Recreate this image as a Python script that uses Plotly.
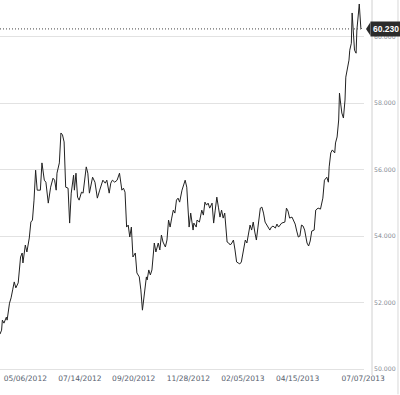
import plotly.graph_objects as go

dates = [
    "2012-04-04", "2012-04-06", "2012-04-07", "2012-04-09", "2012-04-12", "2012-04-13",
    "2012-04-16", "2012-04-18", "2012-04-20", "2012-04-22", "2012-04-24", "2012-04-27",
    "2012-04-30", "2012-05-02", "2012-05-03", "2012-05-06", "2012-05-08", "2012-05-11",
    "2012-05-13", "2012-05-15", "2012-05-17", "2012-05-19", "2012-05-21", "2012-05-25",
    "2012-05-27", "2012-05-30", "2012-06-01", "2012-06-04", "2012-06-07", "2012-06-10",
    "2012-06-12", "2012-06-14", "2012-06-15", "2012-06-18", "2012-06-20", "2012-06-22",
    "2012-06-24", "2012-06-26", "2012-06-29", "2012-07-01", "2012-07-03", "2012-07-06",
    "2012-07-07", "2012-07-09", "2012-07-11", "2012-07-13", "2012-07-16", "2012-07-18",
    "2012-07-22", "2012-07-24", "2012-07-26", "2012-07-30", "2012-08-02", "2012-08-05",
    "2012-08-08", "2012-08-12", "2012-08-15", "2012-08-17", "2012-08-20", "2012-08-22",
    "2012-08-24", "2012-08-27", "2012-08-30", "2012-09-02", "2012-09-05", "2012-09-07",
    "2012-09-09", "2012-09-11", "2012-09-13", "2012-09-15", "2012-09-17", "2012-09-19",
    "2012-09-22", "2012-09-24", "2012-09-27", "2012-09-29", "2012-10-01", "2012-10-03",
    "2012-10-06", "2012-10-07", "2012-10-09", "2012-10-11", "2012-10-13", "2012-10-16",
    "2012-10-18", "2012-10-21", "2012-10-23", "2012-10-25", "2012-10-27", "2012-10-30",
    "2012-11-01", "2012-11-03", "2012-11-05", "2012-11-07", "2012-11-09", "2012-11-11",
    "2012-11-13", "2012-11-15", "2012-11-17", "2012-11-20", "2012-11-23", "2012-11-24",
    "2012-11-26", "2012-11-28", "2012-11-29", "2012-12-01", "2012-12-04", "2012-12-05",
    "2012-12-08", "2012-12-09", "2012-12-12", "2012-12-15", "2012-12-17", "2012-12-19",
    "2012-12-21", "2012-12-23", "2012-12-25", "2012-12-28", "2012-12-30", "2013-01-01",
    "2013-01-03", "2013-01-05", "2013-01-07", "2013-01-09", "2013-01-11", "2013-01-13",
    "2013-01-16", "2013-01-18", "2013-01-20", "2013-01-22", "2013-01-24", "2013-01-26",
    "2013-01-28", "2013-01-30", "2013-02-01", "2013-02-03", "2013-02-06", "2013-02-08",
    "2013-02-10", "2013-02-12", "2013-02-14", "2013-02-16", "2013-02-18", "2013-02-20",
    "2013-02-22", "2013-02-24", "2013-02-27", "2013-03-01", "2013-03-03", "2013-03-05",
    "2013-03-07", "2013-03-09", "2013-03-11", "2013-03-13", "2013-03-15", "2013-03-18",
    "2013-03-20", "2013-03-22", "2013-03-24", "2013-03-26", "2013-03-30", "2013-04-01",
    "2013-04-03", "2013-04-05", "2013-04-08", "2013-04-10", "2013-04-12", "2013-04-14",
    "2013-04-16", "2013-04-18", "2013-04-20", "2013-04-22", "2013-04-24", "2013-04-27",
    "2013-04-29", "2013-05-01", "2013-05-03", "2013-05-06", "2013-05-08", "2013-05-11",
    "2013-05-14", "2013-05-17", "2013-05-19", "2013-05-22", "2013-05-24", "2013-05-25",
    "2013-05-27", "2013-05-29", "2013-06-01", "2013-06-02", "2013-06-04", "2013-06-06",
    "2013-06-07", "2013-06-08", "2013-06-10", "2013-06-12", "2013-06-14", "2013-06-15",
    "2013-06-17", "2013-06-19", "2013-06-20", "2013-06-22", "2013-06-23", "2013-06-25",
    "2013-06-26", "2013-06-28", "2013-06-29", "2013-07-01", "2013-07-02", "2013-07-04",
    "2013-07-05",
]

values = [
    51.05, 51.17, 51.47, 51.38, 51.56, 51.47,
    51.98, 52.14, 52.38, 52.62, 52.44, 52.59,
    53.37, 53.49, 53.19, 53.73, 53.52, 53.94,
    54.42, 54.48, 55.08, 55.98, 55.38, 55.38,
    56.20, 55.68, 55.62, 54.99, 55.47, 55.74,
    55.68, 55.38, 55.89, 56.20, 57.10, 57.04,
    56.83, 55.47, 55.44, 54.39, 55.29, 55.83,
    55.38, 55.89, 55.17, 55.08, 55.32, 55.29,
    56.08, 55.89, 55.29, 55.77, 55.62, 55.14,
    55.38, 55.68, 55.59, 55.68, 55.29, 55.59,
    55.68, 55.62, 55.68, 55.89, 55.38, 55.44,
    55.32, 54.27, 54.33, 53.97, 54.27, 53.37,
    53.49, 52.89, 52.77, 52.38, 51.77, 52.17,
    52.77, 52.68, 52.98, 52.83, 52.98, 53.79,
    53.52, 53.79, 53.58, 54.03, 53.82, 53.67,
    53.88, 54.48, 54.27, 54.54, 54.78, 54.69,
    55.08, 55.14, 55.02, 55.38, 55.59, 55.68,
    55.47, 54.78, 54.27, 54.69, 54.18, 54.39,
    54.27, 54.48, 54.42, 54.78, 54.63, 55.02,
    54.93, 54.99, 54.84, 54.99, 54.39, 54.78,
    55.17, 54.87, 54.57, 54.78, 54.54, 54.69,
    53.82, 53.79, 53.73, 53.79, 53.88, 53.58,
    53.22, 53.19, 53.16, 53.22, 53.58, 53.88,
    53.79, 54.12, 54.33, 54.18, 54.42, 54.12,
    53.88, 54.27, 54.84, 54.87, 54.69, 54.42,
    54.33, 54.24, 54.18, 54.27, 54.30, 54.24,
    54.36, 54.27, 54.33, 54.39, 54.42, 54.84,
    54.75, 54.54, 54.57, 54.48, 54.36, 54.15,
    53.97, 54.00, 54.33, 54.30, 54.18, 53.79,
    53.70, 53.85, 54.15, 54.18, 54.78, 54.84,
    54.81, 55.14, 55.68, 55.77, 55.62, 56.08,
    56.50, 56.59, 56.50, 56.80, 56.98, 57.49,
    58.30, 58.09, 57.70, 57.55, 58.09, 58.78,
    58.99, 59.29, 59.59, 59.80, 60.71, 60.11,
    59.59, 59.50, 60.20, 60.71, 60.98, 60.26,
    60.23,
]

x_tick_dates = ["2012-05-06", "2012-07-14", "2012-09-20", "2012-11-28",
                "2013-02-05", "2013-04-15", "2013-07-07"]
x_tick_text = ["05/06/2012", "07/14/2012", "09/20/2012", "11/28/2012",
               "02/05/2013", "04/15/2013", "07/07/2013"]
y_ticks = [50, 52, 54, 56, 58, 60]
last_value = 60.23

fig = go.Figure()
fig.add_trace(go.Scatter(
    x=dates, y=values, mode="lines",
    line=dict(color="#222222", width=1),
    hoverinfo="skip", showlegend=False,
))

fig.update_layout(
    width=400, height=395,
    margin=dict(l=0, r=36, t=0, b=23, autoexpand=False),
    paper_bgcolor="white", plot_bgcolor="white",
    showlegend=False,
    xaxis=dict(
        type="date",
        range=["2012-04-04", "2013-07-08"],
        tickvals=x_tick_dates, ticktext=x_tick_text,
        showgrid=False, zeroline=False, showline=False, automargin=False,
        ticks="", tickfont=dict(family="DejaVu Sans", size=7.5, color="#56606e"),
    ),
    yaxis=dict(
        side="right",
        range=[49.91, 61.10],
        tickvals=y_ticks, tickformat=".3f",
        showgrid=True, gridcolor="#e2e2e2", gridwidth=1,
        zeroline=False, showline=False, ticks="", automargin=False,
        ticklabelstandoff=9,
        tickfont=dict(family="DejaVu Sans", size=6.2, color="#858b94"),
    ),
    shapes=[
        dict(type="line", xref="paper", yref="y", x0=0, x1=0.995,
             y0=last_value, y1=last_value,
             line=dict(color="#444444", width=1, dash="1px,2px")),
        dict(type="line", xref="paper", yref="paper", x0=1.022, x1=1.022,
             y0=-0.008, y1=1, line=dict(color="#d0d0d0", width=1)),
        dict(type="line", xref="paper", yref="paper", x0=1.0934, x1=1.0934,
             y0=-0.06, y1=1, line=dict(color="#d8d8d8", width=1)),
        dict(type="path", xref="paper", yref="y",
             path="M 1.0055,60.23 L 1.0175,60.43 L 1.0175,60.03 Z",
             fillcolor="#2b2b2b", line=dict(width=0)),
    ],
    annotations=[
        dict(xref="paper", yref="y", x=1.016, y=last_value,
             xanchor="left", yanchor="middle", showarrow=False,
             text="<b>60.230</b>", bgcolor="#2b2b2b", borderpad=2,
             font=dict(family="Liberation Sans", size=8.5, color="white")),
    ],
)

fig.write_html(
    "out.html",
    config={"displayModeBar": False},
    post_script="document.body.style.margin='0';document.body.style.padding='0';"
                "document.body.style.overflow='hidden';",
)
